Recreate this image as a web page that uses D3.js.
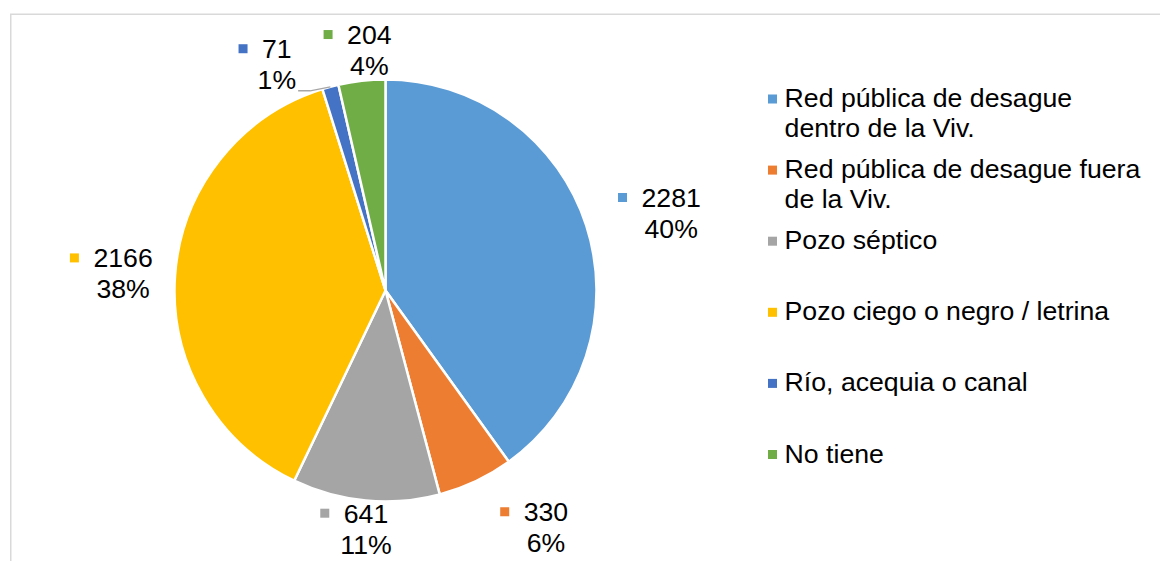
<!DOCTYPE html>
<html><head><meta charset="utf-8">
<script src="https://cdn.jsdelivr.net/npm/d3@7"></script>
<style>
body{margin:0;background:#fff}
svg{display:block}
text{font-family:"Liberation Sans",Arial,sans-serif;fill:#000}
</style>
</head><body>
<svg id="c" width="1160" height="561"></svg>
<script>
// ---- data ----
const categories = [
  "Red pública de desague dentro de la Viv.",
  "Red pública de desague fuera de la Viv.",
  "Pozo séptico",
  "Pozo ciego o negro / letrina",
  "Río, acequia o canal",
  "No tiene"
];
const values = [2281, 330, 641, 2166, 71, 204];
const colors = ["#5B9BD5", "#ED7D31", "#A5A5A5", "#FFC000", "#4472C4", "#70AD47"];

// ---- layout ----
const W = 1160, H = 561;
const cx = 385.5, cy = 290.5, R = 211;
const fontSize = 26.67;
const labelShiftDeg = [2.7, -8.8, -0.7, -0.4, -10.5, 2.6];
const labelOffset = [85, 75, 28, 52, 40, 30];
const showLeader = [false, false, false, false, true, false];
const lineGap = 31;
const legendX = 768, legendY0 = 107, legendSlot = 71.1, legendWrap = 362;

const svg = d3.select("#c");

// frame
svg.append("rect").attr("x", 10.75).attr("y", 14.25).attr("width", W).attr("height", H)
  .attr("fill", "none").attr("stroke", "#d9d9d9").attr("stroke-width", 1.5);

const total = d3.sum(values);
const pct = d3.format(".0%");
const pie = d3.pie().sort(null).value(d => d)(values);
const arc = d3.arc().innerRadius(0).outerRadius(R);

const g = svg.append("g").attr("transform", `translate(${cx},${cy})`);
g.selectAll("path.slice").data(pie).join("path")
  .attr("class", "slice")
  .attr("d", arc)
  .attr("fill", (d, i) => colors[i])
  .attr("stroke", "#fff").attr("stroke-width", 2.5).attr("stroke-linejoin", "round");

// data labels
const rad = Math.PI / 180;
pie.forEach((d, i) => {
  const mid = (d.startAngle + d.endAngle) / 2;
  const a = mid + labelShiftDeg[i] * rad;
  const lr = R + labelOffset[i];
  const lx = Math.sin(a) * lr, ly = -Math.cos(a) * lr;
  const lg = g.append("g");
  const y1 = ly - lineGap / 2 + fontSize * 0.358;
  const y2 = ly + lineGap / 2 + fontSize * 0.358;
  const t1 = lg.append("text").attr("x", lx).attr("y", y1).attr("text-anchor", "middle")
    .style("font-size", fontSize + "px").text(values[i]);
  const t2 = lg.append("text").attr("x", lx).attr("y", y2).attr("text-anchor", "middle")
    .style("font-size", fontSize + "px").text(pct(values[i] / total));
  const w1 = t1.node().getComputedTextLength();
  const w2 = t2.node().getComputedTextLength();
  lg.append("rect").attr("x", lx - w1 / 2 - 14.5 - 9).attr("y", ly - lineGap / 2 - 4.5)
    .attr("width", 9).attr("height", 9).attr("fill", colors[i]);
  if (showLeader[i]) {
    const ex = Math.sin(mid) * R, ey = -Math.cos(mid) * R;
    const sx = lx + w2 / 2 + 2, sy = y2 + 1.5;
    g.append("path")
      .attr("d", `M${sx},${sy}L${sx + 12},${sy}L${ex},${ey}`)
      .attr("fill", "none").attr("stroke", "#A6A6A6").attr("stroke-width", 1.3);
  }
});

// legend
const leg = svg.append("g");
categories.forEach((c, i) => {
  const by = legendY0 + i * legendSlot;
  leg.append("rect").attr("x", legendX).attr("y", by - 12.5).attr("width", 9).attr("height", 9)
    .attr("fill", colors[i]);
  const t = leg.append("text").attr("x", legendX + 16.6).attr("y", by)
    .style("font-size", fontSize + "px");
  const words = c.split(" ");
  let line = [], lineNo = 0;
  let ts = t.append("tspan").attr("x", legendX + 16.6).attr("y", by);
  words.forEach(w => {
    line.push(w);
    ts.text(line.join(" "));
    if (ts.node().getComputedTextLength() > legendWrap && line.length > 1) {
      line.pop();
      ts.text(line.join(" "));
      line = [w];
      lineNo++;
      ts = t.append("tspan").attr("x", legendX + 16.6).attr("y", by + lineNo * 30).text(w);
    }
  });
});
</script>
</body></html>
